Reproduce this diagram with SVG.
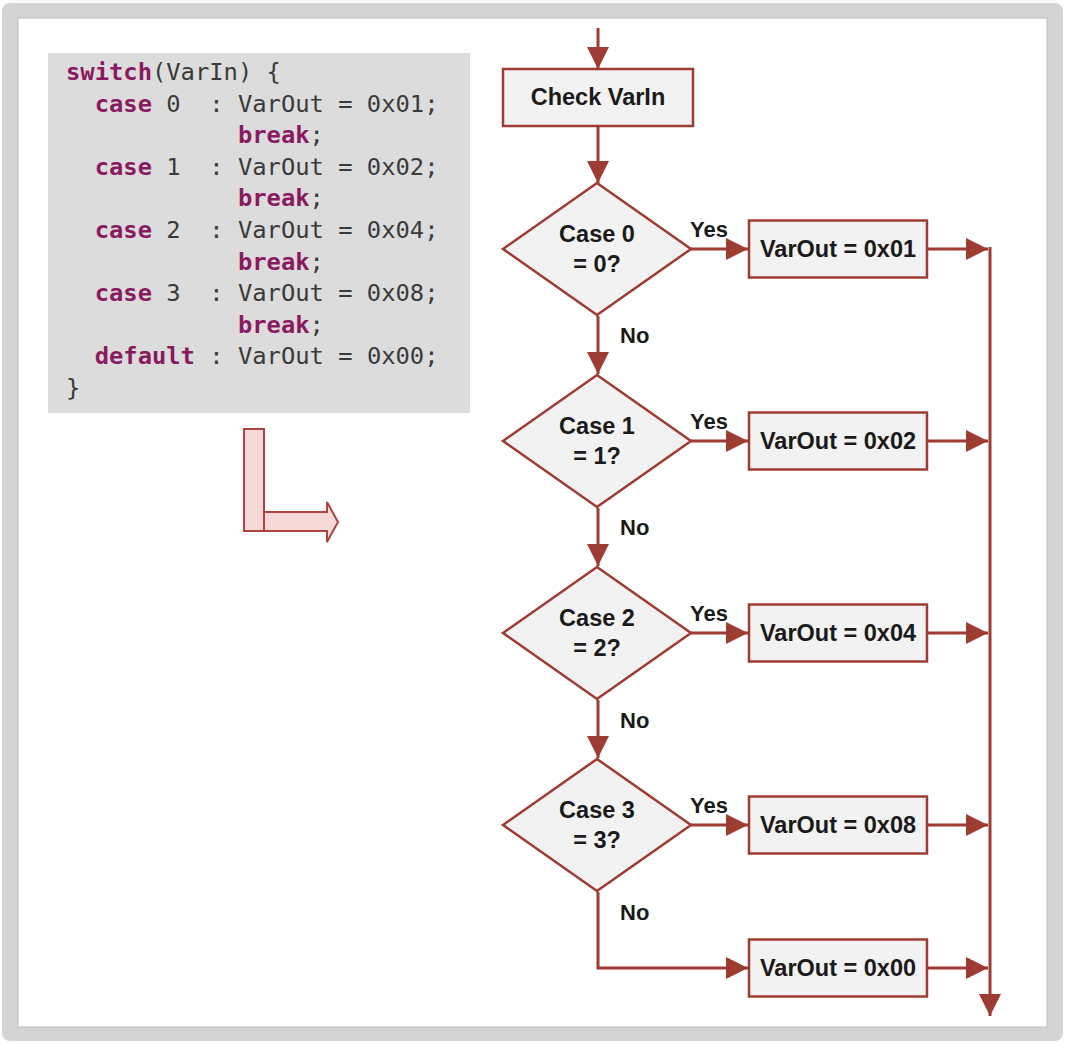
<svg xmlns="http://www.w3.org/2000/svg" width="1065" height="1044" viewBox="0 0 1065 1044">
<defs>
<style>
.code{font-family:"DejaVu Sans Mono","Liberation Mono",monospace;font-size:23.8px;fill:#3a3a3a}
.kw{fill:#8a1a60;font-weight:bold}
.lbl{font-family:"Liberation Sans",Arial,sans-serif;font-weight:bold;font-size:22px;fill:#1a1a1a}
.nl{font-size:23.5px}
.nd{fill:#f2f2f2;stroke:#9e3b33;stroke-width:2.5}
.cn{fill:none;stroke:#9e3b33;stroke-width:3}
</style>
<marker id="ah" markerUnits="userSpaceOnUse" markerWidth="24" markerHeight="24" viewBox="0 0 24 24" refX="22" refY="12" orient="auto">
<path d="M0,1 L22,12 L0,23 Z" fill="#9e3b33"/>
</marker>
</defs>
<rect x="2" y="3" width="1061" height="1038" rx="8" fill="#d4d4d4"/>
<rect x="18" y="18" width="1029" height="1009" fill="#ffffff" stroke="#bdbdbd" stroke-width="1"/>

<g id="code">
<rect x="48" y="53" width="422" height="360" fill="#dcdcdc"/>
<text class="code" xml:space="preserve"><tspan x="66" y="80"><tspan class="kw">switch</tspan>(VarIn) {</tspan><tspan x="66" y="111.6">  <tspan class="kw">case</tspan> 0  : VarOut = 0x01;</tspan><tspan x="66" y="143.2">            <tspan class="kw">break</tspan>;</tspan><tspan x="66" y="174.8">  <tspan class="kw">case</tspan> 1  : VarOut = 0x02;</tspan><tspan x="66" y="206.4">            <tspan class="kw">break</tspan>;</tspan><tspan x="66" y="238">  <tspan class="kw">case</tspan> 2  : VarOut = 0x04;</tspan><tspan x="66" y="269.6">            <tspan class="kw">break</tspan>;</tspan><tspan x="66" y="301.2">  <tspan class="kw">case</tspan> 3  : VarOut = 0x08;</tspan><tspan x="66" y="332.8">            <tspan class="kw">break</tspan>;</tspan><tspan x="66" y="364.4">  <tspan class="kw">default</tspan> : VarOut = 0x00;</tspan><tspan x="66" y="396">}</tspan></text>
</g>

<g id="lArrow" fill="#f5d9d9" stroke="#b0423f" stroke-width="2">
<path d="M264,512 H327 V502 L338,522 L327,542 V531 H264 Z"/>
<rect x="244" y="429" width="20" height="102"/>
</g>

<g id="connectors" class="cn">
<line x1="598" y1="28" x2="598" y2="69" marker-end="url(#ah)"/>
<line x1="598" y1="126" x2="598" y2="183" marker-end="url(#ah)"/>
<line x1="598" y1="316" x2="598" y2="374" marker-end="url(#ah)"/>
<line x1="598" y1="508" x2="598" y2="566" marker-end="url(#ah)"/>
<line x1="598" y1="700" x2="598" y2="758" marker-end="url(#ah)"/>
<path d="M598,892 V968 H748" marker-end="url(#ah)"/>
<line x1="691" y1="249" x2="748" y2="249" marker-end="url(#ah)"/>
<line x1="691" y1="441" x2="748" y2="441" marker-end="url(#ah)"/>
<line x1="691" y1="633" x2="748" y2="633" marker-end="url(#ah)"/>
<line x1="691" y1="825" x2="748" y2="825" marker-end="url(#ah)"/>
<line x1="927" y1="249" x2="988" y2="249" marker-end="url(#ah)"/>
<line x1="927" y1="441" x2="988" y2="441" marker-end="url(#ah)"/>
<line x1="927" y1="633" x2="988" y2="633" marker-end="url(#ah)"/>
<line x1="927" y1="825" x2="988" y2="825" marker-end="url(#ah)"/>
<line x1="927" y1="968" x2="988" y2="968" marker-end="url(#ah)"/>
<line x1="990" y1="247" x2="990" y2="1016" marker-end="url(#ah)"/>
</g>

<g id="edgeLabels" class="lbl">
<text x="690" y="237">Yes</text>
<text x="690" y="429">Yes</text>
<text x="690" y="621">Yes</text>
<text x="690" y="813">Yes</text>
<text x="620" y="343">No</text>
<text x="620" y="535">No</text>
<text x="620" y="728">No</text>
<text x="620" y="920">No</text>
</g>

<g id="checkVarIn">
<rect class="nd" x="503" y="69" width="190" height="57"/>
<text class="lbl nl" x="598" y="105" text-anchor="middle">Check VarIn</text>
</g>

<g id="case0">
<path class="nd" d="M597,183 L691,249 L597,315 L503,249 Z"/>
<text class="lbl nl" x="597" y="242" text-anchor="middle">Case 0</text>
<text class="lbl nl" x="597" y="272" text-anchor="middle">= 0?</text>
</g>
<g id="case1">
<path class="nd" d="M597,375 L691,441 L597,507 L503,441 Z"/>
<text class="lbl nl" x="597" y="434" text-anchor="middle">Case 1</text>
<text class="lbl nl" x="597" y="464" text-anchor="middle">= 1?</text>
</g>
<g id="case2">
<path class="nd" d="M597,567 L691,633 L597,699 L503,633 Z"/>
<text class="lbl nl" x="597" y="626" text-anchor="middle">Case 2</text>
<text class="lbl nl" x="597" y="656" text-anchor="middle">= 2?</text>
</g>
<g id="case3">
<path class="nd" d="M597,759 L691,825 L597,891 L503,825 Z"/>
<text class="lbl nl" x="597" y="818" text-anchor="middle">Case 3</text>
<text class="lbl nl" x="597" y="848" text-anchor="middle">= 3?</text>
</g>

<g id="out01">
<rect class="nd" x="749" y="220.5" width="178" height="57"/>
<text class="lbl nl" x="838" y="257" text-anchor="middle">VarOut = 0x01</text>
</g>
<g id="out02">
<rect class="nd" x="749" y="412.5" width="178" height="57"/>
<text class="lbl nl" x="838" y="449" text-anchor="middle">VarOut = 0x02</text>
</g>
<g id="out04">
<rect class="nd" x="749" y="604.5" width="178" height="57"/>
<text class="lbl nl" x="838" y="641" text-anchor="middle">VarOut = 0x04</text>
</g>
<g id="out08">
<rect class="nd" x="749" y="796.5" width="178" height="57"/>
<text class="lbl nl" x="838" y="833" text-anchor="middle">VarOut = 0x08</text>
</g>
<g id="out00">
<rect class="nd" x="749" y="939.5" width="178" height="57"/>
<text class="lbl nl" x="838" y="976" text-anchor="middle">VarOut = 0x00</text>
</g>
</svg>
